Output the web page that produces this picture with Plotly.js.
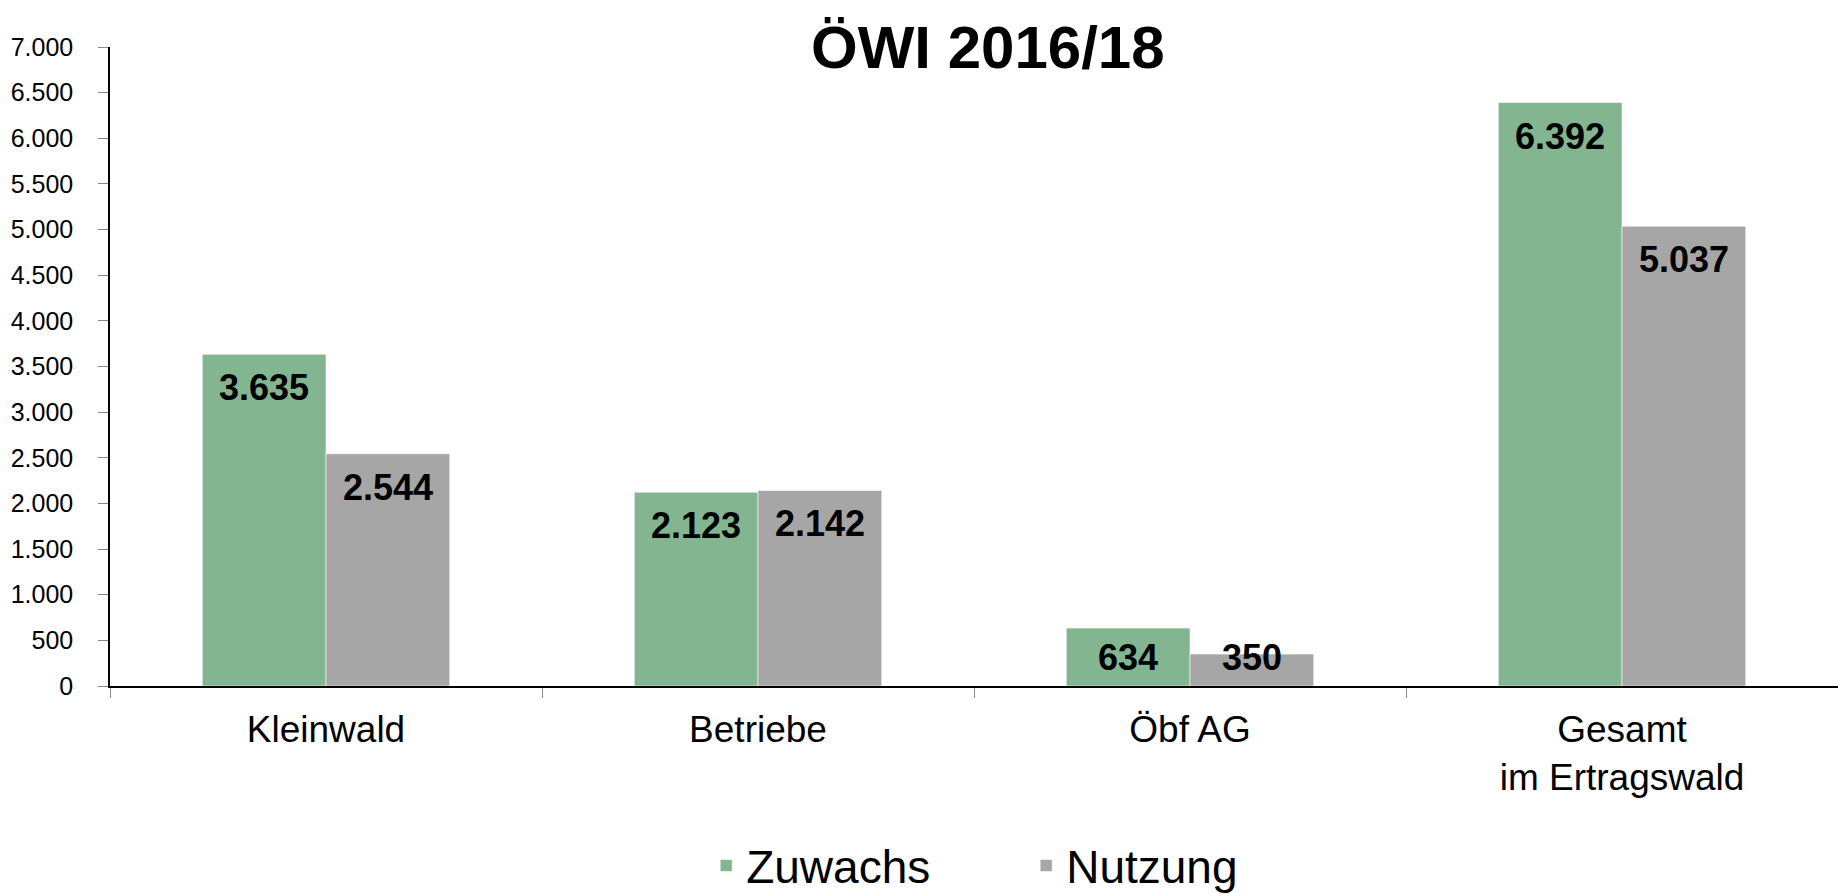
<!DOCTYPE html>
<html>
<head>
<meta charset="utf-8">
<script src="https://cdn.plot.ly/plotly-3.0.1.min.js"></script>
<style>
html,body{margin:0;padding:0;background:#fff;}
#chart{width:1838px;height:894px;}
</style>
</head>
<body>
<div id="chart"></div>
<script>
const categories = ["Kleinwald", "Betriebe", "Öbf AG", "Gesamt<br>im Ertragswald"];
const zuwachs = [3635, 2123, 634, 6392];
const nutzung = [2544, 2142, 350, 5037];
const seriesNames = ["Zuwachs", "Nutzung"];
const seriesColors = ["#82B590", "#A6A6A6"];
const yTickValues = [0, 500, 1000, 1500, 2000, 2500, 3000, 3500, 4000, 4500, 5000, 5500, 6000, 6500, 7000];

const FONT = "Liberation Sans, Arial, sans-serif";
const BARGAP = 0.427;

const series = [zuwachs, nutzung];
const traces = series.map((vals, s) => ({
  type: "bar", name: seriesNames[s], x: categories, y: vals,
  marker: {color: seriesColors[s], line: {color: "rgba(255,255,255,0.6)", width: 1}},
  hoverinfo: "x+y"
}));

// value labels: inside the top end of each bar (kept above the axis for short bars)
const barHalf = (1 - BARGAP) / 2;       // width of one bar in category units
const minLabelY = 680;                  // short bars: keep label clear of the axis
const annotations = [];
series.forEach((vals, s) => {
  vals.forEach((v, i) => {
    annotations.push({
      xref: "x", yref: "y",
      x: i + (s === 0 ? -barHalf / 2 : barHalf / 2),
      y: Math.max(v, minLabelY),
      yanchor: "top", xanchor: "center", yshift: -11,
      text: v.toLocaleString("de-DE"),
      showarrow: false,
      font: {family: FONT, size: 36, color: "#000", weight: "bold"}
    });
  });
});

const layout = {
  width: 1838, height: 894,
  paper_bgcolor: "#fff", plot_bgcolor: "#fff",
  separators: ",.",
  font: {family: FONT, color: "#000"},
  margin: {l: 110, r: 0, t: 47, b: 208, pad: 0, autoexpand: false},
  title: {
    text: "<b>ÖWI 2016/18</b>",
    font: {family: FONT, size: 60, color: "#000"},
    x: 0.508, xref: "paper", xanchor: "center",
    y: 0.947, yref: "container", yanchor: "middle"
  },
  barmode: "group", bargap: BARGAP, bargroupgap: 0,
  xaxis: {
    type: "category",
    showline: true, linecolor: "#000", linewidth: 1.5,
    ticks: "outside", tickson: "boundaries", ticklen: 10, tickcolor: "#888",
    tickfont: {family: FONT, size: 37, color: "#000"},
    ticklabelstandoff: 10,
    showgrid: false, zeroline: false
  },
  yaxis: {
    range: [0, 7000], tickvals: yTickValues, tickformat: ",d",
    showline: true, linecolor: "#000", linewidth: 1.5,
    ticks: "outside", ticklen: 10, tickcolor: "#888",
    tickfont: {family: FONT, size: 25, color: "#000"},
    ticklabelstandoff: 20,
    showgrid: false, zeroline: false
  },
  annotations: annotations,
  showlegend: true,
  legend: {
    orientation: "h", x: 0.345, xanchor: "left", y: -0.281, yanchor: "middle",
    font: {family: FONT, size: 46, color: "#000"},
    itemwidth: 30, entrywidth: 275, traceorder: "normal"
  }
};

Plotly.newPlot("chart", traces, layout, {displayModeBar: false, responsive: false});
</script>
</body>
</html>
